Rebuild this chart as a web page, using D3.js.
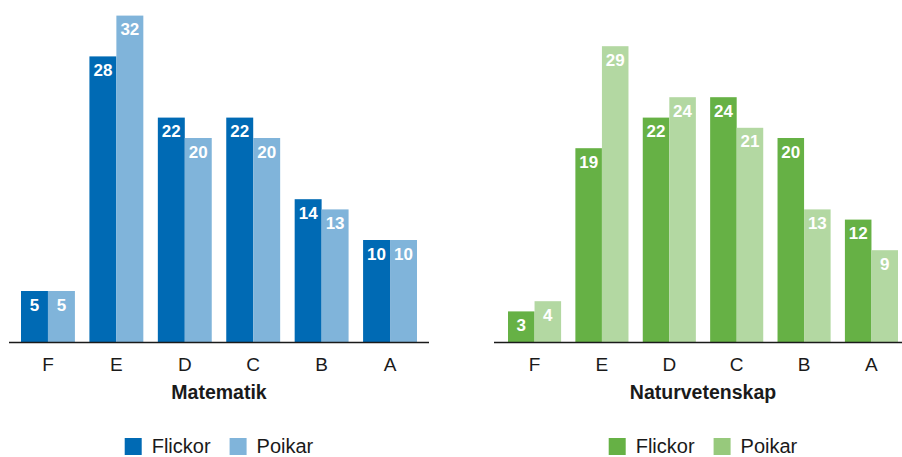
<!DOCTYPE html>
<html>
<head>
<meta charset="utf-8">
<script src="https://cdn.jsdelivr.net/npm/d3@7"></script>
<style>
  html, body { margin: 0; padding: 0; background: #ffffff; }
  svg { display: block; }
  text { font-family: "Liberation Sans", Arial, sans-serif; }
</style>
</head>
<body>
<svg id="chart" width="902" height="457"></svg>
<script>
// Betygsfördelning (%) per ämne, flickor och pojkar
const grades = ["F", "E", "D", "C", "B", "A"];
const seriesNames = ["Flickor", "Poikar"];

const matteFlickor = [5, 28, 22, 22, 14, 10];
const mattePojkar  = [5, 32, 20, 20, 13, 10];

const noFlickor = [3, 19, 22, 24, 20, 12];
const noPojkar  = [4, 29, 24, 21, 13, 9];

const panelTitles = ["Matematik", "Naturvetenskap"];

const panels = [
  {
    title: panelTitles[0],
    values: [matteFlickor, mattePojkar],
    colors: ["#006ab4", "#80b4da"],
    legendColors: ["#006ab4", "#80b4da"],
    barExtent: [21, 417],
    axisExtent: [9, 429]
  },
  {
    title: panelTitles[1],
    values: [noFlickor, noPojkar],
    colors: ["#66b145", "#b3d8a2"],
    legendColors: ["#66b145", "#97c97c"],
    barExtent: [508, 898],
    axisExtent: [494, 902]
  }
];

const svg = d3.select("#chart");
const baseline = 342;
const y = d3.scaleLinear().domain([0, 32]).range([baseline, baseline - 32 * 10.2]);

panels.forEach(p => {
  const g = svg.append("g");

  const x0 = d3.scaleBand()
    .domain(grades)
    .range(p.barExtent)
    .paddingInner(0.212)
    .paddingOuter(0);

  const x1 = d3.scaleBand()
    .domain(seriesNames)
    .range([0, x0.bandwidth()])
    .padding(0);

  const rows = grades.map((gr, i) => ({
    grade: gr,
    items: seriesNames.map((s, k) => ({ series: s, k, value: p.values[k][i] }))
  }));

  const groups = g.selectAll("g.grp")
    .data(rows)
    .join("g")
    .attr("class", "grp")
    .attr("transform", d => `translate(${x0(d.grade)},0)`);

  groups.selectAll("rect")
    .data(d => d.items)
    .join("rect")
    .attr("x", d => x1(d.series))
    .attr("y", d => y(d.value))
    .attr("width", x1.bandwidth())
    .attr("height", d => y(0) - y(d.value))
    .attr("fill", d => p.colors[d.k]);

  groups.selectAll("text.val")
    .data(d => d.items)
    .join("text")
    .attr("class", "val")
    .attr("x", d => x1(d.series) + x1.bandwidth() / 2)
    .attr("y", d => y(d.value) + 19.5)
    .attr("text-anchor", "middle")
    .attr("fill", "#ffffff")
    .attr("font-size", 17)
    .attr("font-weight", "bold")
    .text(d => d.value);

  // baseline
  g.append("line")
    .attr("x1", p.axisExtent[0])
    .attr("x2", p.axisExtent[1])
    .attr("y1", baseline + 0.5)
    .attr("y2", baseline + 0.5)
    .attr("stroke", "#1a1a1a")
    .attr("stroke-width", 1.3);

  // category axis
  const axis = d3.axisBottom(x0).tickSize(0).tickPadding(0);
  const ax = g.append("g")
    .attr("transform", `translate(0,${baseline})`)
    .call(axis);
  ax.select(".domain").remove();
  ax.selectAll("text")
    .attr("y", 29)
    .attr("dy", 0)
    .attr("font-size", 19)
    .attr("font-family", "Liberation Sans, Arial, sans-serif")
    .attr("fill", "#1a1a1a");

  const cx = (p.barExtent[0] + p.barExtent[1]) / 2;

  g.append("text")
    .attr("x", cx)
    .attr("y", 399)
    .attr("text-anchor", "middle")
    .attr("font-size", 19.5)
    .attr("font-weight", "bold")
    .attr("fill", "#1a1a1a")
    .text(p.title);

  // legend
  const leg = g.append("g");
  const items = leg.selectAll("g")
    .data(seriesNames)
    .join("g");
  items.append("rect")
    .attr("y", 438)
    .attr("width", 17)
    .attr("height", 17)
    .attr("fill", (d, k) => p.legendColors[k]);
  items.append("text")
    .attr("x", 27)
    .attr("y", 453)
    .attr("font-size", 20)
    .attr("fill", "#1a1a1a")
    .text(d => d);

  let off = 0;
  items.each(function () {
    const gNode = d3.select(this);
    gNode.attr("transform", `translate(${off},0)`);
    const w = gNode.select("text").node().getComputedTextLength();
    off += 27 + w + 19;
  });
  const total = off - 19;
  leg.attr("transform", `translate(${cx - total / 2},0)`);
});
</script>
</body>
</html>
